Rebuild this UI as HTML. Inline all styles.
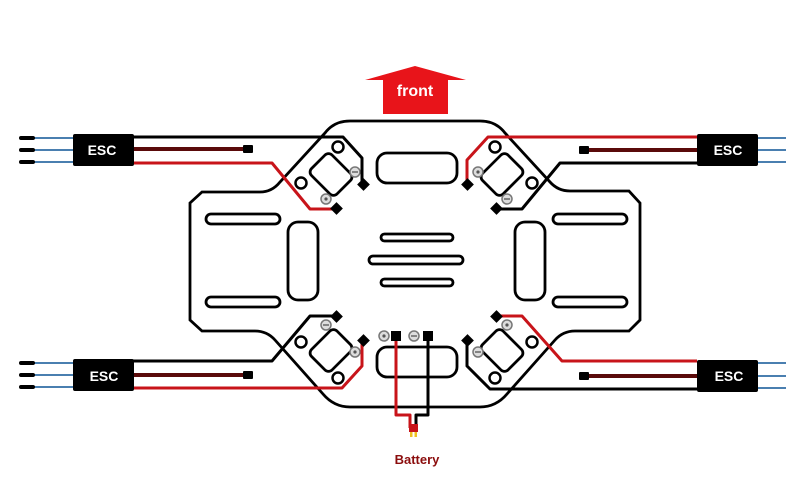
<!DOCTYPE html>
<html><head><meta charset="utf-8"><style>
html,body{margin:0;padding:0;background:#fff;width:800px;height:499px;overflow:hidden}
svg{display:block}
</style></head><body>
<svg width="800" height="499" viewBox="0 0 800 499" xmlns="http://www.w3.org/2000/svg">
<defs>
<g id="mount">
  <circle cx="338" cy="147" r="5.5" fill="#fff" stroke="#000" stroke-width="2.5"/>
  <circle cx="301" cy="183" r="5.5" fill="#fff" stroke="#000" stroke-width="2.5"/>
  <rect x="313" y="160" width="36" height="29" rx="5" transform="rotate(45 331 174.5)" fill="#fff" stroke="#000" stroke-width="2.8"/>
</g>
</defs>
<!-- front arrow -->
<polygon points="415,66 466,80 448,80 448,114 383,114 383,80 365,80" fill="#e8141a"/>
<text x="415" y="96" text-anchor="middle" font-family="Liberation Sans, sans-serif" font-weight="bold" font-size="16" fill="#fff">front</text>

<!-- plate outline -->
<path d="M350,121 L480,121 Q496,121 505,133 L550,182 Q558,191 570,191 L629,191 L640,203 L640,320 L629,331 L575,331 Q563,331 555,340 L507,394 Q496,407 480,407 L350,407 Q334,407 323,394 L275,340 Q267,331 255,331 L202,331 L190,320 L190,203 L202,192 L260,192 Q272,192 280,182 L325,133 Q334,121 350,121 Z" fill="none" stroke="#000" stroke-width="2.8"/>

<!-- slots -->
<g fill="none" stroke="#000" stroke-width="2.8">
<rect x="377" y="153" width="80" height="30" rx="10"/>
<rect x="377" y="347" width="80" height="30" rx="10"/>
<rect x="206" y="214" width="74" height="10" rx="5"/>
<rect x="206" y="297" width="74" height="10" rx="5"/>
<rect x="288" y="222" width="30" height="78" rx="10"/>
<rect x="553" y="214" width="74" height="10" rx="5"/>
<rect x="553" y="297" width="74" height="10" rx="5"/>
<rect x="515" y="222" width="30" height="78" rx="10"/>
<rect x="381" y="234" width="72" height="7" rx="3.5"/>
<rect x="369" y="256" width="94" height="8" rx="4"/>
<rect x="381" y="279" width="72" height="7" rx="3.5"/>
</g>

<!-- mounts -->
<use href="#mount"/>
<use href="#mount" transform="translate(833,0) scale(-1,1)"/>
<use href="#mount" transform="translate(0,525) scale(1,-1)"/>
<use href="#mount" transform="translate(833,525) scale(-1,-1)"/>

<!-- screw symbols -->
<g fill="#ddd" stroke="#777" stroke-width="1.5">
<circle cx="355" cy="172" r="5"/><circle cx="326" cy="199" r="5"/>
<circle cx="478" cy="172" r="5"/><circle cx="507" cy="199" r="5"/>
<circle cx="326" cy="325" r="5"/><circle cx="355" cy="352" r="5"/>
<circle cx="507" cy="325" r="5"/><circle cx="478" cy="352" r="5"/>
<circle cx="384" cy="336" r="5"/><circle cx="414" cy="336" r="5"/>
</g>
<g stroke="#555" stroke-width="1.3">
<line x1="352" y1="172" x2="358" y2="172"/><line x1="504" y1="199" x2="510" y2="199"/>
<line x1="323" y1="325" x2="329" y2="325"/><line x1="475" y1="352" x2="481" y2="352"/>
<line x1="411" y1="336" x2="417" y2="336"/>
</g>
<g fill="#555"><circle cx="326" cy="199" r="1.6"/><circle cx="478" cy="172" r="1.6"/><circle cx="355" cy="352" r="1.6"/><circle cx="507" cy="325" r="1.6"/><circle cx="384" cy="336" r="1.6"/></g>

<!-- wires -->
<g fill="none" stroke-width="3" stroke-linejoin="round">
<polyline points="133,137 343,137 362,158 362,182" stroke="#000"/>
<polyline points="133,163 272,163 310,209 335,209" stroke="#c8141a"/>
<line x1="133" y1="149" x2="246" y2="149" stroke="#5a0a0a" stroke-width="4"/>
<polyline points="697,137 488,137 467,160 467,182" stroke="#c8141a"/>
<polyline points="697,163 560,163 522,209 498,209" stroke="#000"/>
<line x1="697" y1="150" x2="585" y2="150" stroke="#5a0a0a" stroke-width="4"/>
<polyline points="133,361 272,361 310,316 335,316" stroke="#000"/>
<polyline points="133,388 342,388 362,366 362,343" stroke="#c8141a"/>
<line x1="133" y1="375" x2="246" y2="375" stroke="#5a0a0a" stroke-width="4"/>
<polyline points="697,361 562,361 522,316 498,316" stroke="#c8141a"/>
<polyline points="697,389 490,389 467,366 467,343" stroke="#000"/>
<line x1="697" y1="376" x2="585" y2="376" stroke="#5a0a0a" stroke-width="4"/>
<polyline points="396,338 396,415 410,415 410,428" stroke="#c8141a"/>
<polyline points="428,338 428,415 416,415 416,428" stroke="#000"/>
</g>
<rect x="409" y="424" width="9" height="8" fill="#c8141a"/>
<rect x="410" y="432" width="2.5" height="5" fill="#f0c020"/>
<rect x="414.5" y="432" width="2.5" height="5" fill="#f0c020"/>

<!-- terminals -->
<g fill="#000">
<rect x="243" y="145" width="10" height="8" rx="1"/>
<rect x="579" y="146" width="10" height="8" rx="1"/>
<rect x="243" y="371" width="10" height="8" rx="1"/>
<rect x="579" y="372" width="10" height="8" rx="1"/>
<rect x="359" y="180" width="9" height="9" transform="rotate(45 363.5 184.5)"/>
<rect x="332" y="204" width="9" height="9" transform="rotate(45 336.5 208.5)"/>
<rect x="463" y="180" width="9" height="9" transform="rotate(45 467.5 184.5)"/>
<rect x="492" y="204" width="9" height="9" transform="rotate(45 496.5 208.5)"/>
<rect x="332" y="312" width="9" height="9" transform="rotate(45 336.5 316.5)"/>
<rect x="359" y="336" width="9" height="9" transform="rotate(45 363.5 340.5)"/>
<rect x="492" y="312" width="9" height="9" transform="rotate(45 496.5 316.5)"/>
<rect x="463" y="336" width="9" height="9" transform="rotate(45 467.5 340.5)"/>
<rect x="391" y="331" width="10" height="10"/>
<rect x="423" y="331" width="10" height="10"/>
</g>

<!-- ESC boxes -->
<g fill="#000">
<rect x="73" y="134" width="61" height="32" rx="2"/>
<rect x="73" y="359" width="61" height="32" rx="2"/>
<rect x="697" y="134" width="61" height="32" rx="2"/>
<rect x="697" y="360" width="61" height="32" rx="2"/>
</g>
<g font-family="Liberation Sans, sans-serif" font-weight="bold" font-size="14" fill="#fff" text-anchor="middle">
<text x="102" y="155">ESC</text>
<text x="104" y="381">ESC</text>
<text x="728" y="155">ESC</text>
<text x="729" y="381">ESC</text>
</g>
<g stroke="#4a7fb0" stroke-width="2">
<line x1="33" y1="138" x2="73" y2="138"/><line x1="33" y1="150" x2="73" y2="150"/><line x1="33" y1="162" x2="73" y2="162"/>
<line x1="33" y1="363" x2="73" y2="363"/><line x1="33" y1="375" x2="73" y2="375"/><line x1="33" y1="387" x2="73" y2="387"/>
<line x1="758" y1="138" x2="786" y2="138"/><line x1="758" y1="150" x2="786" y2="150"/><line x1="758" y1="162" x2="786" y2="162"/>
<line x1="758" y1="363" x2="786" y2="363"/><line x1="758" y1="376" x2="786" y2="376"/><line x1="758" y1="388" x2="786" y2="388"/>
</g>
<g stroke="#000" stroke-width="4" stroke-linecap="round">
<line x1="21" y1="138" x2="33" y2="138"/><line x1="21" y1="150" x2="33" y2="150"/><line x1="21" y1="162" x2="33" y2="162"/>
<line x1="21" y1="363" x2="33" y2="363"/><line x1="21" y1="375" x2="33" y2="375"/><line x1="21" y1="387" x2="33" y2="387"/>
</g>

<text x="417" y="464" text-anchor="middle" font-family="Liberation Sans, sans-serif" font-weight="bold" font-size="13" fill="#8b0d0d">Battery</text>
</svg>
</body></html>
